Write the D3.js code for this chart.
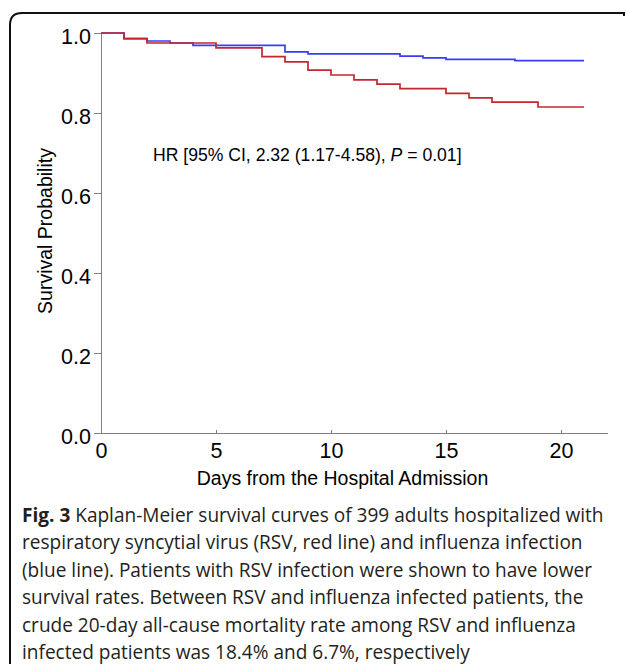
<!DOCTYPE html>
<meta charset="utf-8">
<style>
body {
  margin: 0;
  background: #fff;
}
svg {
  display: block;
  font-family: "Liberation Sans", Arial, sans-serif;
}
.axis path,
.axis line {
  stroke: #808080;
  shape-rendering: crispEdges;
}
.curve {
  fill: none;
  stroke-width: 1.7px;
}
.caption {
  font-family: "Open Sans", sans-serif;
  font-size: 20px;
  fill: #231f20;
}
</style>
<body>
<script src="https://cdn.jsdelivr.net/npm/d3@7"></script>
<script>
// Kaplan-Meier steps: day of the event and survival after it
var rsvDays = [0, 1, 2, 5, 7, 8, 9, 10, 11, 12, 13, 15, 16, 17, 19, 21];
var rsvSurv = [1.0, 0.986, 0.975, 0.963, 0.941, 0.928, 0.907, 0.895, 0.883, 0.872, 0.861, 0.849, 0.838, 0.827, 0.815, 0.815];

var fluDays = [0, 1, 2, 3, 4, 8, 9, 13, 14, 15, 18, 21];
var fluSurv = [1.0, 0.986, 0.980, 0.975, 0.969, 0.953, 0.948, 0.942, 0.938, 0.934, 0.931, 0.931];

var xTicks = [0, 5, 10, 15, 20];
var yTicks = [0, 0.2, 0.4, 0.6, 0.8, 1.0];

var hrLabel = ["HR [95% CI, 2.32 (1.17-4.58), ", "P", " = 0.01]"];

var captionLines = [
  "Kaplan-Meier survival curves of 399 adults hospitalized with",
  "respiratory syncytial virus (RSV, red line) and influenza infection",
  "(blue line). Patients with RSV infection were shown to have lower",
  "survival rates. Between RSV and influenza infected patients, the",
  "crude 20-day all-cause mortality rate among RSV and influenza",
  "infected patients was 18.4% and 6.7%, respectively"
];

var W = 627, H = 664;

var svg = d3.select('body').append('svg')
    .attr('width', W)
    .attr('height', H);

// frame around the figure (only top and left edges visible)
svg.append('path')
    .attr('d', 'M10,' + H + 'V25Q10,13 22,13H624v3')
    .attr('fill', 'none')
    .attr('stroke', '#111')
    .attr('stroke-width', 2);

var x = d3.scaleLinear()
    .domain([0, 22])
    .range([101, 607]);

var y = d3.scaleLinear()
    .domain([0, 1])
    .range([433, 33]);

var xAxis = d3.axisBottom(x)
    .tickValues(xTicks)
    .tickFormat(d3.format('d'))
    .tickSizeInner(-3)
    .tickSizeOuter(0)
    .tickPadding(10);

var yAxis = d3.axisLeft(y)
    .tickValues(yTicks)
    .tickFormat(d3.format('.1f'))
    .tickSizeInner(7)
    .tickSizeOuter(0)
    .tickPadding(3);

svg.append('g')
    .attr('class', 'x axis')
    .attr('transform', 'translate(0,' + y(0) + ')')
    .call(xAxis)
    .call(function(g) {
      g.attr('font-family', null).attr('font-size', null);
      g.selectAll('text').style('font-size', '21.5px').attr('fill', '#000');
    });

svg.append('g')
    .attr('class', 'y axis')
    .attr('transform', 'translate(' + x(0) + ',0)')
    .call(yAxis)
    .call(function(g) {
      g.attr('font-family', null).attr('font-size', null);
      g.selectAll('text').style('font-size', '21.5px').attr('fill', '#000').attr('dy', '0.5em');
    });

var line = d3.line()
    .x(function(d) { return x(d[0]); })
    .y(function(d) { return y(d[1]); })
    .curve(d3.curveStepAfter);

svg.append('path')
    .attr('class', 'curve')
    .attr('stroke', '#3b3bff')
    .attr('d', line(d3.zip(fluDays, fluSurv)));

svg.append('path')
    .attr('class', 'curve')
    .attr('stroke', '#c0282e')
    .attr('d', line(d3.zip(rsvDays, rsvSurv)));

// axis titles
svg.append('text')
    .attr('x', (x(0) + x(21)) / 2)
    .attr('y', 485)
    .attr('text-anchor', 'middle')
    .style('font-size', '19.5px')
    .text('Days from the Hospital Admission');

svg.append('text')
    .attr('transform', 'translate(52,' + (y(0.5) - 2) + ') rotate(-90)')
    .attr('text-anchor', 'middle')
    .style('font-size', '19.5px')
    .text('Survival Probability');

var hr = svg.append('text')
    .attr('x', x(2.26))
    .attr('y', y(0.681))
    .style('font-size', '17.6px');
hr.append('tspan').text(hrLabel[0]);
hr.append('tspan').style('font-style', 'italic').text(hrLabel[1]);
hr.append('tspan').text(hrLabel[2]);

// figure caption
var cap = svg.append('g')
    .attr('class', 'caption');

var capText = cap.selectAll('text')
    .data(captionLines)
  .enter().append('text')
    .attr('x', 0)
    .attr('y', function(d, i) { return 522 + i * 27.4; });

capText.each(function(d, i) {
  var t = d3.select(this);
  if (i === 0) {
    t.append('tspan').style('font-weight', 'bold').text('Fig. 3');
    t.append('tspan').text(' ' + d);
  } else {
    t.text(d);
  }
});

// squeeze the caption so the first line spans the figure width, like the print font
var firstW = capText.node().getComputedTextLength();
var sx = 582 / firstW;
cap.attr('transform', 'translate(22,0) scale(' + sx + ',1)');

</script>
</body>
